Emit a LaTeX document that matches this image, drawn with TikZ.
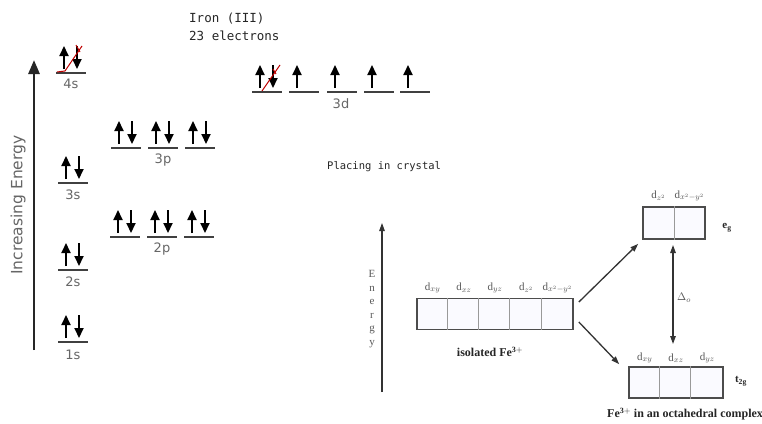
\documentclass[tikz,border=0pt]{standalone}
\usepackage{fontspec}
\setmainfont{Liberation Serif}
\newfontfamily\labelfont{DejaVu Sans}
\newfontfamily\notefont{DejaVu Sans Mono}
\usetikzlibrary{arrows.meta,calc}

\tikzset{
  level/.style={draw=black!75, line width=1.8pt},
  spin/.style={-{Triangle[length=10pt,width=9pt]}, line width=2pt, draw=black},
  orblabel/.style={font=\labelfont\fontsize{13}{13}\selectfont, text=black!60, inner sep=0pt},
  note/.style={font=\notefont\fontsize{12.5}{18}\selectfont, text=black!85, inner sep=0pt, align=left},
  strike/.style={draw=red!75!black, line width=1pt},
  axis/.style={-{Triangle[length=14pt,width=11pt]}, line width=2.6pt, draw=black!85},
  cellbox/.style={draw=black!70, line width=1.7pt, fill=blue!2, minimum height=31pt, inner sep=0pt},
  divider/.style={draw=black!40, line width=0.8pt},
  dlab/.style={font=\fontsize{11}{11}\selectfont, text=black!65, inner sep=0pt},
  boldlab/.style={font=\bfseries\fontsize{12}{12}\selectfont, text=black!85, inner sep=0pt},
  conn/.style={-{Triangle[length=8pt,width=5.5pt]}, line width=1.3pt, draw=black!80},
  pairorb/.pic={
    \draw[level] (-15,0) -- (15,0);
    \draw[spin] (-7,-4) -- (-7,-27);
    \draw[spin] (6,-27) -- (6,-4);
  },
  uporb/.pic={
    \draw[level] (-15,0) -- (15,0);
    \draw[spin] (-7,-4) -- (-7,-27);
  }
}

\begin{document}
\begin{tikzpicture}[x=1pt,y=-1pt]
  \useasboundingbox (0,0) rectangle (762,423);
  \fill[white] (0,0) rectangle (762,423);

  % energy axis of the aufbau diagram
  \coordinate (axbot) at (34,350);
  \coordinate (axtop) at (34,60);
  \draw[axis] (axbot) -- (axtop);
  \node[orblabel, rotate=90, font=\labelfont\fontsize{15.5}{15.5}\selectfont] (incE) at (18,205) {Increasing Energy};

  % s levels
  \pic at (73,342) {pairorb};
  \node[orblabel] (l1s) at (73,355) {1s};
  \pic at (73,270) {pairorb};
  \node[orblabel] (l2s) at (73,282) {2s};
  \pic at (73,183) {pairorb};
  \node[orblabel] (l3s) at (73,195) {3s};
  \pic at (71,73) {pairorb};
  \node[orblabel] (l4s) at (71,84) {4s};

  % p levels
  \foreach \x in {125,162,199} { \pic at (\x,237) {pairorb}; }
  \node[orblabel] (l2p) at (162,249) {2p};
  \foreach \x in {126,163,200} { \pic at (\x,148) {pairorb}; }
  \node[orblabel] (l3p) at (163,160) {3p};

  % 3d level
  \pic at (267,92) {pairorb};
  \foreach \x in {304,342,379,415} { \pic at (\x,92) {uporb}; }
  \node[orblabel] (l3d) at (341,104) {3d};

  % removed electrons
  \draw[strike] (57,72) -- (65,71) -- (82,46);
  \draw[strike] (76,45) -- (80,52);
  \draw[strike] (262,91) -- (280,65);
  \draw[strike] (273,69) -- (276,74);

  % notes
  \node[note, anchor=north west] (iron) at (189,13) {Iron (III)\\23 electrons};
  \node[note, anchor=west, font=\notefont\fontsize{10.5}{12}\selectfont] (place) at (327,167) {Placing in crystal};

  % crystal field splitting
  \coordinate (ebot) at (382,392);
  \coordinate (etop) at (382,223);
  \draw[conn, line width=1.1pt] (ebot) -- (etop);
  \node[font=\fontsize{11}{13.6}\selectfont, text=black!65, align=center, inner sep=0pt] (elbl) at (372,309) {E\\n\\e\\r\\g\\y};

  \node[cellbox, minimum width=156pt] (iso) at (495,314) {};
  \foreach \i in {1,...,4} {
    \draw[divider] ($(iso.north west)+(31.2*\i,0)$) -- ($(iso.south west)+(31.2*\i,0)$);
  }
  \node[dlab] (i1) at (432.6,288) {d$_{xy}$};
  \node[dlab] (i2) at (463.8,288) {d$_{xz}$};
  \node[dlab] (i3) at (495,288) {d$_{yz}$};
  \node[dlab] (i4) at (526.2,288) {d$_{z^2}$};
  \node[dlab] (i5) at (557.4,288) {d$_{x^2-y^2}$};
  \node[boldlab] (isolbl) at (490,352) {isolated Fe$^{\mathbf{3+}}$};

  \node[cellbox, minimum width=62pt, minimum height=32pt] (eg) at (674,223) {};
  \draw[divider] (eg.north) -- (eg.south);
  \node[dlab] (e1) at (658.5,196) {d$_{z^2}$};
  \node[dlab] (e2) at (689.5,196) {d$_{x^2-y^2}$};
  \node[boldlab, font=\bfseries\fontsize{11}{11}\selectfont] (eglbl) at (727,228) {e$_{\mathbf{g}}$};

  \node[cellbox, minimum width=94pt] (t2g) at (676,382.5) {};
  \foreach \i in {1,2} {
    \draw[divider] ($(t2g.north west)+(31.33*\i,0)$) -- ($(t2g.south west)+(31.33*\i,0)$);
  }
  \node[dlab] (t1) at (644.7,358) {d$_{xy}$};
  \node[dlab] (t2) at (676,358) {d$_{xz}$};
  \node[dlab] (t3) at (707.3,358) {d$_{yz}$};
  \node[boldlab, font=\bfseries\fontsize{11}{11}\selectfont] (t2glbl) at (741,381) {t$_{\mathbf{2g}}$};
  \node[boldlab, anchor=west] (octlbl) at (607,414) {Fe$^{\mathbf{3+}}$ in an octahedral complex};

  % splitting arrows
  \draw[conn] ($(iso.east)+(5,-12)$) -- ($(eg.south west)+(-4,4)$);
  \draw[conn] ($(iso.east)+(5,8)$) -- ($(t2g.north west)+(-9,-2)$);
  \coordinate (dtop) at (673,245);
  \coordinate (dbot) at (673,344);
  \draw[conn, {Triangle[length=8pt,width=5.5pt]}-{Triangle[length=8pt,width=5.5pt]}] (dtop) -- (dbot);
  \node[dlab] (delta) at (684,298) {$\Delta_o$};
\end{tikzpicture}
\end{document}
